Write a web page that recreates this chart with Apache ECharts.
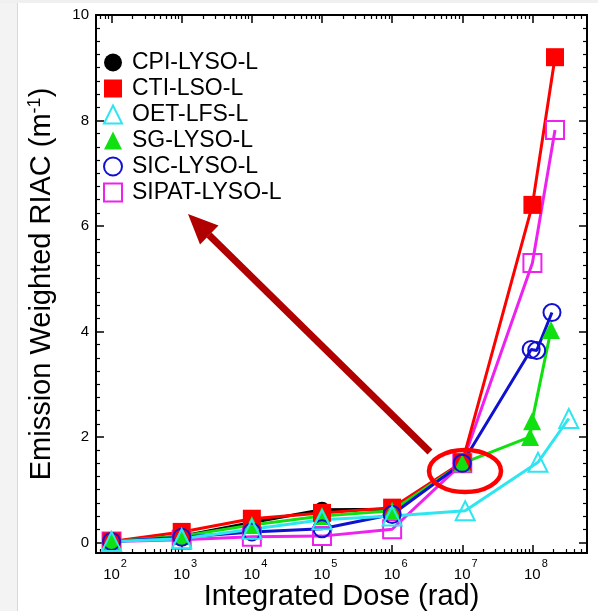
<!DOCTYPE html>
<html>
<head>
<meta charset="utf-8">
<script src="https://cdn.jsdelivr.net/npm/echarts@6/dist/echarts.min.js"></script>
<style>
html,body{margin:0;padding:0;background:#fff;}
#chart{width:598px;height:611px;}
</style>
</head>
<body>
<div id="chart"></div>
<script>
// ---- data ----
const seriesNames = ['CPI-LYSO-L', 'CTI-LSO-L', 'OET-LFS-L', 'SG-LYSO-L', 'SIC-LYSO-L', 'SIPAT-LYSO-L'];

const cpiDose   = [1e2, 1e3, 1e4, 1e5, 1e6, 1e7];
const cpiRiac   = [0.02, 0.12, 0.38, 0.62, 0.63, 1.5];

const ctiDose   = [1e2, 1e3, 1e4, 1e5, 1e6, 1e7, 1e8, 2.1e8];
const ctiRiac   = [0.02, 0.2, 0.45, 0.56, 0.66, 1.52, 6.4, 9.2];

const oetDose   = [1e2, 1e3, 1e4, 1e5, 1e6, 1.1e7, 1.2e8, 3.3e8];
const oetRiac   = [0.02, 0.07, 0.25, 0.43, 0.5, 0.6, 1.52, 2.35];

const sgDose    = [1e2, 1e3, 1e4, 1e5, 1e6, 1e7, 9.25e7, 9.9e7, 1.84e8];
const sgRiac    = [0.02, 0.12, 0.33, 0.5, 0.6, 1.5, 2.0, 2.3, 4.03];

const sicDose   = [1e2, 1e3, 1e4, 1e5, 1e6, 1e7, 9.6e7, 1.15e8, 1.9e8];
const sicRiac   = [0.02, 0.1, 0.2, 0.26, 0.53, 1.5, 3.66, 3.64, 4.36];

const sipatDose = [1e2, 1e3, 1e4, 1e5, 1e6, 1e7, 1e8, 2.1e8];
const sipatRiac = [0.02, 0.05, 0.11, 0.12, 0.25, 1.5, 5.3, 7.82];

const yTickLabels = [0, 2, 4, 6, 8, 10];
const xTitle = 'Integrated Dose (rad)';
const yTitle = '{t|Emission Weighted RIAC (m}{s|-1}{t|)}';

// ---- chart ----
const FONT = 'Liberation Sans, Arial, Helvetica, sans-serif';
const pairs = (xs, ys) => xs.map((x, i) => [x, ys[i]]);

const styles = {
  'CPI-LYSO-L':   {symbol: 'circle',   size: 16, color: '#000000', fill: '#000000', bw: 0},
  'CTI-LSO-L':    {symbol: 'rect',     size: 18, color: '#ff0000', fill: '#ff0000', bw: 0},
  'OET-LFS-L':    {symbol: 'triangle', size: 19, color: '#2ee6f0', fill: 'rgba(0,0,0,0)', bw: 2},
  'SG-LYSO-L':    {symbol: 'triangle', size: 18, color: '#10e010', fill: '#10e010', bw: 0},
  'SIC-LYSO-L':   {symbol: 'circle',   size: 17, color: '#1010d0', fill: 'rgba(0,0,0,0)', bw: 2},
  'SIPAT-LYSO-L': {symbol: 'rect',     size: 18, color: '#ee22ee', fill: 'rgba(0,0,0,0)', bw: 2}
};
const dataByName = {
  'CPI-LYSO-L': pairs(cpiDose, cpiRiac),
  'CTI-LSO-L': pairs(ctiDose, ctiRiac),
  'OET-LFS-L': pairs(oetDose, oetRiac),
  'SG-LYSO-L': pairs(sgDose, sgRiac),
  'SIC-LYSO-L': pairs(sicDose, sicRiac),
  'SIPAT-LYSO-L': pairs(sipatDose, sipatRiac)
};
// drawing order (bottom to top)
const drawOrder = ['CPI-LYSO-L', 'SIPAT-LYSO-L', 'CTI-LSO-L', 'SG-LYSO-L', 'SIC-LYSO-L', 'OET-LFS-L'];

const series = drawOrder.map(name => {
  const s = styles[name];
  return {
    name: name,
    type: 'line',
    xAxisIndex: 0,
    yAxisIndex: 0,
    data: dataByName[name],
    symbol: s.symbol,
    symbolSize: s.size,
    showAllSymbol: true,
    lineStyle: {color: s.color, width: 3},
    itemStyle: {color: s.fill, borderColor: s.color, borderWidth: s.bw},
    emphasis: {disabled: true},
    animation: false
  };
});

const legendData = seriesNames.map(name => {
  const s = styles[name];
  return {
    name: name,
    icon: s.symbol,
    itemStyle: {color: s.fill, borderColor: s.color, borderWidth: s.bw}
  };
});

const isPow10 = v => {
  const e = Math.log10(v);
  return Math.abs(e - Math.round(e)) < 1e-6;
};

const axisLineStyle = {color: '#000', width: 2};
const majorTick = {show: true, inside: true, length: 8, lineStyle: {color: '#000', width: 1.5}};
const minorTickX = {show: true, splitNumber: 9, length: 4, lineStyle: {color: '#000', width: 1.2}};
const minorTickY = {show: true, splitNumber: 8, length: 4, lineStyle: {color: '#000', width: 1.2}};

const chart = echarts.init(document.getElementById('chart'), null, {renderer: 'canvas'});
chart.setOption({
  backgroundColor: '#ffffff',
  animation: false,
  grid: {left: 96, right: 11, top: 15, bottom: 58, containLabel: false, outerBoundsMode: 'none'},
  legend: {
    data: legendData,
    orient: 'vertical',
    left: 98,
    top: 46,
    itemWidth: 18,
    itemHeight: 18,
    itemGap: 3,
    symbolKeepAspect: true,
    selectedMode: false,
    textStyle: {fontFamily: FONT, fontSize: 23, color: '#000', lineHeight: 22, padding: [0, 0, 0, 5]}
  },
  xAxis: [
    {
      type: 'log', logBase: 10, min: 60, max: 6e8, position: 'bottom',
      name: xTitle, nameLocation: 'middle', nameGap: 29, nameMoveOverlap: false,
      nameTextStyle: {fontFamily: FONT, fontSize: 29, color: '#000', verticalAlign: 'top'},
      axisLine: {show: true, onZero: false, lineStyle: axisLineStyle},
      axisTick: majorTick,
      minorTick: minorTickX,
      splitLine: {show: false}, minorSplitLine: {show: false},
      axisLabel: {
        show: true, margin: 5,
        formatter: v => isPow10(v) ? '{b|10}{s|' + Math.round(Math.log10(v)) + '}' : '',
        rich: {
          b: {fontFamily: FONT, fontSize: 15, color: '#000', padding: [0, 0, 0, 7]},
          s: {fontFamily: FONT, fontSize: 11, color: '#000', padding: [0, 0, 23, 1]}
        }
      }
    },
    {
      type: 'log', logBase: 10, min: 60, max: 6e8, position: 'top',
      axisLine: {show: true, onZero: false, lineStyle: axisLineStyle},
      axisTick: majorTick,
      minorTick: minorTickX,
      splitLine: {show: false}, minorSplitLine: {show: false},
      axisLabel: {show: false}
    }
  ],
  yAxis: [
    {
      type: 'value', min: -0.2, max: 10, position: 'left',
      name: yTitle, nameLocation: 'middle', nameGap: 38, nameRotate: 90,
      nameTextStyle: {
        fontFamily: FONT, fontSize: 29, color: '#000',
        rich: {
          t: {fontFamily: FONT, fontSize: 29, color: '#000'},
          s: {fontFamily: FONT, fontSize: 18, color: '#000', padding: [0, 0, 14, 0]}
        }
      },
      axisLine: {show: true, onZero: false, lineStyle: axisLineStyle},
      axisTick: majorTick,
      minorTick: minorTickY,
      splitLine: {show: false}, minorSplitLine: {show: false},
      axisLabel: {
        show: true, margin: 7, fontFamily: FONT, fontSize: 15, color: '#000',
        formatter: v => yTickLabels.indexOf(v) >= 0 ? String(v) : ''
      }
    },
    {
      type: 'value', min: -0.2, max: 10, position: 'right',
      axisLine: {show: true, onZero: false, lineStyle: axisLineStyle},
      axisTick: majorTick,
      minorTick: minorTickY,
      splitLine: {show: false}, minorSplitLine: {show: false},
      axisLabel: {show: false}
    }
  ],
  series: series,
  graphic: [
    {type: 'rect', z: -10, silent: true, shape: {x: 0, y: 0, width: 17, height: 611}, style: {fill: '#f3f3f3'}},
    {type: 'line', z: -10, silent: true, shape: {x1: 17.5, y1: 0, x2: 17.5, y2: 611}, style: {stroke: '#d8d8d8', lineWidth: 1}},
    {type: 'rect', z: -10, silent: true, shape: {x: 0, y: 0, width: 598, height: 3}, style: {fill: '#f0f0f0'}},
    // annotation arrow
    {type: 'line', z: 100, silent: true, shape: {x1: 430, y1: 452, x2: 209, y2: 235}, style: {stroke: '#b00000', lineWidth: 7}},
    {type: 'polygon', z: 100, silent: true, shape: {points: [[188, 214], [200, 244.5], [218.5, 225.5]]}, style: {fill: '#b00000'}},
    // annotation ellipse
    {type: 'ellipse', z: 100, silent: true, shape: {cx: 465, cy: 471, rx: 36, ry: 21}, style: {fill: 'none', stroke: '#ff0000', lineWidth: 4.5}}
  ]
});
</script>
</body>
</html>
